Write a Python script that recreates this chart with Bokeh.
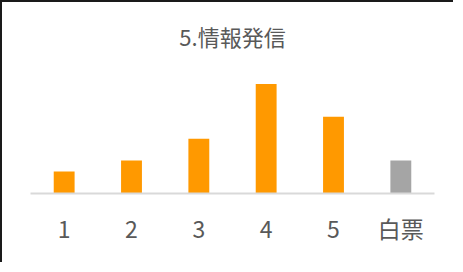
from bokeh.plotting import figure
from bokeh.models import ColumnDataSource, FactorRange, Range1d
from bokeh.embed import file_html
from bokeh.resources import INLINE

categories = ["1", "2", "3", "4", "5", "白票"]
values = [4, 6, 10, 20, 14, 6]
colors = ["#FF9900", "#FF9900", "#FF9900", "#FF9900", "#FF9900", "#A5A5A5"]
title_text = "5.情報発信"

src = ColumnDataSource(dict(cat=categories, val=values, color=colors))

p = figure(width=453, height=262, output_backend="svg", toolbar_location=None,
           x_range=FactorRange(*categories, range_padding=0),
           y_range=Range1d(0, 25),
           min_border_left=28, min_border_right=21, min_border_top=54, min_border_bottom=71,
           title=title_text)
p.styles = {"border-left": "2px solid #1a1a1a", "border-top": "2px solid #1a1a1a"}

p.vbar(x="cat", top="val", width=0.31, color="color", source=src, line_color=None)

p.title.align = "center"
p.title.text_font = "Noto Sans CJK JP"
p.title.text_font_size = "22px"
p.title.text_font_style = "normal"
p.title.text_color = "#595959"

p.yaxis.visible = False
p.xgrid.visible = False
p.ygrid.visible = False
p.outline_line_color = None

ax = p.xaxis[0]
ax.axis_line_color = "#D9D9D9"
ax.axis_line_width = 2
ax.major_tick_line_color = None
ax.minor_tick_line_color = None
ax.major_label_text_font = "Noto Sans CJK JP"
ax.major_label_text_font_size = "23px"
ax.major_label_text_color = "#595959"
ax.major_label_standoff = 11

open("out.html", "w").write(file_html(p, INLINE))
